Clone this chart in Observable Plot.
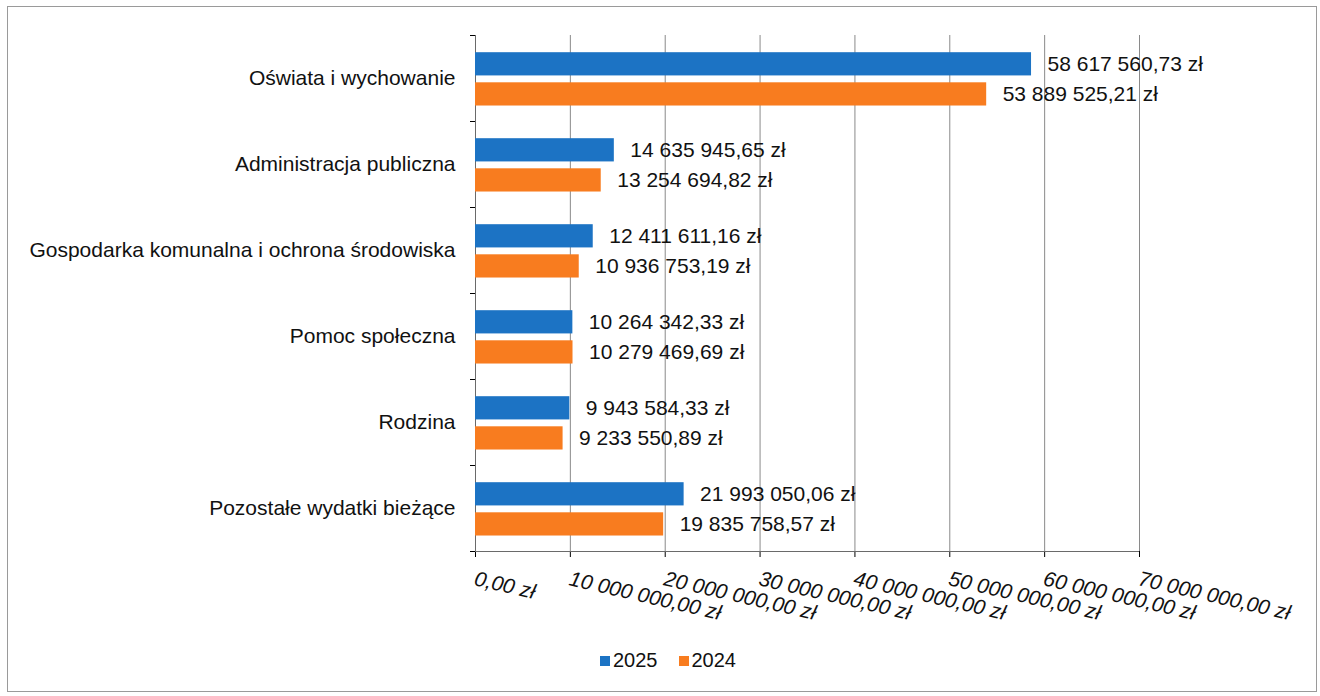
<!DOCTYPE html>
<html>
<head>
<meta charset="utf-8">
<script src="https://cdn.jsdelivr.net/npm/d3@7"></script>
<script src="https://cdn.jsdelivr.net/npm/@observablehq/plot@0.6"></script>
<style>
  html, body { margin: 0; padding: 0; background: #fff; }
  body { width: 1320px; height: 696px; position: relative; overflow: hidden; font-family: "Liberation Sans", Arial, sans-serif; }
  #frame { position: absolute; left: 7px; top: 6px; width: 1310px; height: 686px; border: 1px solid #9a9a9a; box-sizing: border-box; }
  #chart { position: absolute; left: 0; top: 0; }
  #legend { position: absolute; left: 600px; top: 649px; display: flex; gap: 21px; font-size: 20px; color: #111; }
  #legend span.item { display: inline-flex; align-items: center; gap: 3px; }
  #legend span.sw { width: 10px; height: 10px; display: inline-block; }
</style>
</head>
<body>
<div id="frame"></div>
<div id="chart"></div>
<div id="legend"></div>
<script>
const categories = [
  "Oświata i wychowanie",
  "Administracja publiczna",
  "Gospodarka komunalna i ochrona środowiska",
  "Pomoc społeczna",
  "Rodzina",
  "Pozostałe wydatki bieżące"
];
const values2025 = [58617560.73, 14635945.65, 12411611.16, 10264342.33, 9943584.33, 21993050.06];
const values2024 = [53889525.21, 13254694.82, 10936753.19, 10279469.69, 9233550.89, 19835758.57];
const years = ["2025", "2024"];
const colors = ["#1c73c4", "#f87c1f"];
const xTicks = [0, 10000000, 20000000, 30000000, 40000000, 50000000, 60000000, 70000000];

const pl = d3.formatLocale({decimal: ",", thousands: "\u00a0", grouping: [3], currency: ["", "\u00a0zł"]});
const fmt = pl.format("$,.2f");

// Build table: each bar with its band position within the category
const rows = [];
categories.forEach((c, i) => {
  rows.push({cat: c, i, year: years[0], value: values2025[i], y1: i + 0.2, y2: i + 0.47});
  rows.push({cat: c, i, year: years[1], value: values2024[i], y1: i + 0.55, y2: i + 0.82});
});
const bounds = d3.range(categories.length + 1);

const font = "Liberation Sans, Arial, sans-serif";
const chart = Plot.plot({
  width: 1320,
  height: 630,
  marginLeft: 475,
  marginRight: 181,
  marginTop: 35,
  marginBottom: 79,
  style: {fontFamily: font, background: "transparent", overflow: "visible"},
  x: {domain: [0, 70000000], ticks: xTicks, tickFormat: () => "", tickSize: 6, label: null},
  y: {domain: [0, categories.length], reverse: true, ticks: bounds, tickFormat: () => "", tickSize: 5, label: null},
  color: {domain: years, range: colors},
  marks: [
    Plot.ruleX(xTicks.slice(1), {y1: 0, y2: categories.length, stroke: "#8a8a8a", strokeWidth: 1}),
    Plot.ruleX([0], {y1: 0, y2: categories.length, stroke: "#6a6a6a", strokeWidth: 1}),
    Plot.ruleY([categories.length], {x1: 0, x2: 70000000, stroke: "#6a6a6a", strokeWidth: 1}),
    Plot.rectX(rows, {x1: 0, x2: "value", y1: "y1", y2: "y2", fill: "year"}),
    Plot.text(rows, {x: "value", y: d => (d.y1 + d.y2) / 2, text: d => fmt(d.value), textAnchor: "start", dx: 16, fontSize: 21, fill: "#111"}),
    Plot.text(categories, {x: 0, y: (d, i) => i + 0.5, text: d => d, textAnchor: "end", dx: -20, fontSize: 21, fill: "#111"}),
    Plot.text(xTicks, {x: d => d, y: categories.length, text: d => fmt(d), textAnchor: "start", lineAnchor: "top", rotate: 13, dy: 19, dx: 1, fontSize: 21, fontStyle: "italic", fill: "#111"})
  ]
});
document.getElementById("chart").appendChild(chart);

const legend = document.getElementById("legend");
years.forEach((y, k) => {
  const item = document.createElement("span");
  item.className = "item";
  const sw = document.createElement("span");
  sw.className = "sw";
  sw.style.background = colors[k];
  item.appendChild(sw);
  item.appendChild(document.createTextNode(y));
  legend.appendChild(item);
});
</script>
</body>
</html>
